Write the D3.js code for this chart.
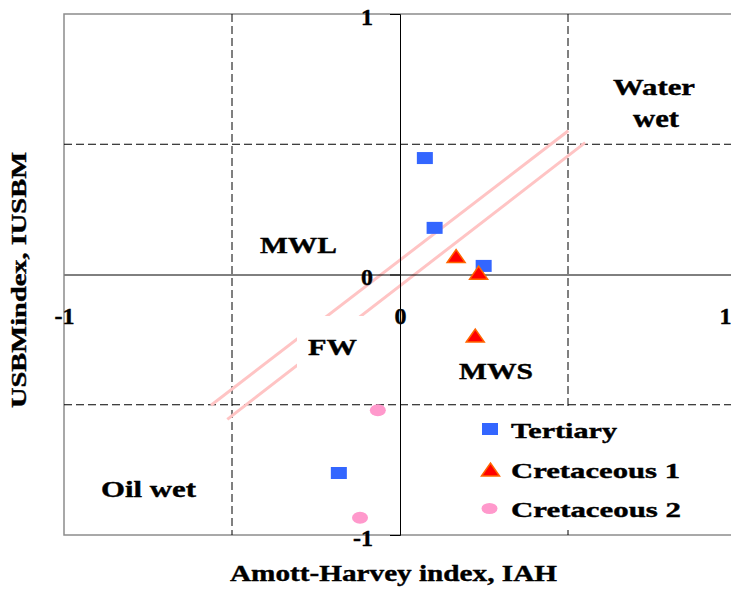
<!DOCTYPE html>
<html>
<head>
<meta charset="utf-8">
<script src="https://cdn.jsdelivr.net/npm/d3@7"></script>
<style>
  body { margin: 0; background: #fff; }
  svg text { font-family: "Liberation Serif", "Times New Roman", serif; font-weight: 700; fill: #000; stroke: #000; stroke-width: 0.4px; }
</style>
</head>
<body>
<svg id="chart" width="731" height="591"></svg>
<script>
// values
const tertiaryIAH = [0.074, 0.103, 0.249, -0.182];
const tertiaryUSBM = [0.447, 0.179, 0.033, -0.762];
const cret1IAH = [0.167, 0.234, 0.224];
const cret1USBM = [0.071, 0.007, -0.234];
const cret2IAH = [-0.066, -0.119];
const cret2USBM = [-0.521, -0.934];

// the two pink band lines (x, y pairs)
const bandUpper = [[-0.5625, -0.502], [0.501, 0.552]];
const bandLower = [[-0.514, -0.556], [0.551, 0.506]];

const gridValues = [-0.5, 0.5];
const tickValues = [-1, 0, 1];
const tickLabels = ['-1', '0', '1'];
const legendLabels = ['Tertiary', 'Cretaceous 1', 'Cretaceous 2'];

const svg = d3.select('#chart');

const x = d3.scaleLinear().domain([-1, 1]).range([64, 736]);
const y = d3.scaleLinear().domain([-1, 1]).range([535, 14]);

const blue = '#3366ff', red = '#ff0000', orange = '#ff6600', pink = '#ff99cc';

// frame
svg.append('rect')
  .attr('x', x(-1)).attr('y', y(1))
  .attr('width', x(1) - x(-1)).attr('height', y(-1) - y(1))
  .attr('fill', 'none').attr('stroke', '#8c8c8c').attr('stroke-width', 1.5);

// dashed quadrant lines
svg.selectAll('.vgrid').data(gridValues).join('line')
  .attr('x1', d => x(d)).attr('x2', d => x(d))
  .attr('y1', y(1)).attr('y2', y(-1))
  .attr('stroke', '#000').attr('stroke-dasharray', '8,4');
svg.selectAll('.hgrid').data(gridValues).join('line')
  .attr('y1', d => y(d)).attr('y2', d => y(d))
  .attr('x1', x(-1)).attr('x2', x(1))
  .attr('stroke', '#000').attr('stroke-dasharray', '8,4');

// band lines
const line = d3.line().x(d => x(d[0])).y(d => y(d[1]));
svg.selectAll('.band').data([bandUpper, bandLower]).join('path')
  .attr('d', line)
  .attr('fill', 'none').attr('stroke', '#ffc4c4').attr('stroke-width', 3);

// white boxes behind FW and the legend
svg.append('rect').attr('x', 297).attr('y', 316).attr('width', 78).attr('height', 68).attr('fill', '#fff');
svg.append('rect').attr('x', 470).attr('y', 406).attr('width', 230).attr('height', 122).attr('fill', '#fff');

// axes through the origin
const xAxis = d3.axisBottom(x).tickValues(tickValues)
  .tickFormat((d, i) => tickLabels[i])
  .tickSizeInner(0).tickSizeOuter(0).tickPadding(32);
const gx = svg.append('g').attr('transform', `translate(0,${y(0)})`).call(xAxis);

const yAxis = d3.axisLeft(y).tickValues(tickValues)
  .tickFormat((d, i) => tickLabels[i])
  .tickSizeInner(10).tickSizeOuter(10).tickPadding(17);
const gy = svg.append('g').attr('transform', `translate(${x(0)},0)`).call(yAxis);

[gx, gy].forEach(g => {
  g.attr('font-size', 24);
  g.select('.domain').attr('stroke', '#000');
  g.selectAll('.tick line').attr('stroke', '#000');
});
gy.selectAll('text').attr('dy', '0.42em');
// the right-hand "1" sits on the page edge; keep it inside
gx.selectAll('text').filter(d => d === 1).attr('text-anchor', 'end').attr('x', -5);

// markers
const tri = (cx, cy) => `M${cx - 9},${cy + 6.5}L${cx},${cy - 6.5}L${cx + 9},${cy + 6.5}Z`;

svg.selectAll('.tert').data(tertiaryIAH).join('rect')
  .attr('x', (d, i) => x(d) - 8).attr('y', (d, i) => y(tertiaryUSBM[i]) - 6)
  .attr('width', 16).attr('height', 12).attr('fill', blue);

svg.selectAll('.cret1').data(cret1IAH).join('path')
  .attr('d', (d, i) => tri(x(d), y(cret1USBM[i])))
  .attr('fill', red).attr('stroke', orange).attr('stroke-width', 1.5);

svg.selectAll('.cret2').data(cret2IAH).join('ellipse')
  .attr('cx', d => x(d)).attr('cy', (d, i) => y(cret2USBM[i]))
  .attr('rx', 8).attr('ry', 6).attr('fill', pink);

// region labels
const labels = [
  { t: 'Water', x: 613, y: 95, len: 82, size: 24 },
  { t: 'wet', x: 633, y: 127, len: 46, size: 25 },
  { t: 'MWL', x: 260, y: 253, len: 77, size: 24 },
  { t: 'FW', x: 308, y: 355, len: 49, size: 24 },
  { t: 'MWS', x: 459, y: 379, len: 74, size: 24 },
  { t: 'Oil wet', x: 101, y: 497, len: 95, size: 24 }
];
svg.selectAll('.lbl').data(labels).join('text')
  .attr('x', d => d.x).attr('y', d => d.y)
  .attr('textLength', d => d.len).attr('lengthAdjust', 'spacingAndGlyphs')
  .attr('font-size', d => d.size)
  .text(d => d.t);

// legend
const lg = svg.append('g');
lg.append('rect').attr('x', 482).attr('y', 423).attr('width', 16).attr('height', 12).attr('fill', blue);
lg.append('path').attr('d', tri(490.5, 469.5)).attr('fill', red).attr('stroke', orange).attr('stroke-width', 1.5);
lg.append('ellipse').attr('cx', 489.5).attr('cy', 508.5).attr('rx', 8).attr('ry', 5.5).attr('fill', pink);
lg.selectAll('text').data(legendLabels).join('text')
  .attr('x', 511).attr('y', (d, i) => 438 + i * 39.5)
  .attr('textLength', (d, i) => [106, 169, 170][i]).attr('lengthAdjust', 'spacingAndGlyphs')
  .attr('font-size', 22)
  .text(d => d);

// axis titles
svg.append('text')
  .attr('x', 230).attr('y', 581)
  .attr('textLength', 327).attr('lengthAdjust', 'spacingAndGlyphs')
  .attr('font-size', 24)
  .text('Amott-Harvey index, IAH');

svg.append('text')
  .attr('transform', 'translate(26,408) rotate(-90)')
  .attr('textLength', 256).attr('lengthAdjust', 'spacingAndGlyphs')
  .attr('font-size', 20)
  .text('USBMindex, IUSBM');
</script>
</body>
</html>
